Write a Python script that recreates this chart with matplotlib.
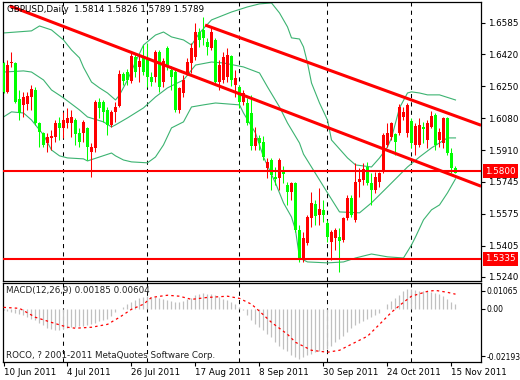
import matplotlib
matplotlib.use("Agg")
import matplotlib.pyplot as plt
import matplotlib.transforms as mtransforms

# daily GBPUSD candles, 10 Jun 2011 .. 16 Nov 2011
opens = [1.6373, 1.6219, 1.6373, 1.6373, 1.6182, 1.6150, 1.6156, 1.6193, 1.6230, 1.6055,
         1.6002, 1.5949, 1.5976, 1.5981, 1.6055, 1.6029, 1.6055, 1.6055, 1.6071, 1.6002,
         1.6002, 1.6029, 1.5901, 1.5922, 1.6166, 1.6166, 1.6124, 1.6044, 1.6113, 1.6145,
         1.6315, 1.6325, 1.6278, 1.6405, 1.6352, 1.6400, 1.6400, 1.6299, 1.6299, 1.6431,
         1.6272, 1.6452, 1.6336, 1.6325, 1.6124, 1.6214, 1.6320, 1.6373, 1.6405, 1.6537,
         1.6548, 1.6484, 1.6452, 1.6495, 1.6272, 1.6283, 1.6299, 1.6410, 1.6256, 1.6246,
         1.6166, 1.6161, 1.6108, 1.5933, 1.5976, 1.5954, 1.5816, 1.5859, 1.5769, 1.5763,
         1.5795, 1.5726, 1.5689, 1.5737, 1.5488, 1.5329, 1.5419, 1.5552, 1.5626, 1.5567,
         1.5594, 1.5525, 1.5424, 1.5445, 1.5451, 1.5435, 1.5552, 1.5657, 1.5541, 1.5742,
         1.5753, 1.5822, 1.5737, 1.5700, 1.5742, 1.5795, 1.5938, 1.5981, 1.5997, 1.6002,
         1.6087, 1.6002, 1.6066, 1.5938, 1.5938, 1.6034, 1.5965, 1.6034, 1.6097, 1.5965,
         1.5949, 1.6082, 1.5896, 1.5814]
highs = [1.6378, 1.6389, 1.6431, 1.6378, 1.6230, 1.6219, 1.6219, 1.6256, 1.6246, 1.6060,
         1.6007, 1.6002, 1.6018, 1.6071, 1.6087, 1.6113, 1.6135, 1.6124, 1.6082, 1.6029,
         1.6071, 1.6034, 1.5949, 1.6177, 1.6187, 1.6177, 1.6140, 1.6124, 1.6166, 1.6336,
         1.6325, 1.6341, 1.6426, 1.6426, 1.6415, 1.6468, 1.6479, 1.6325, 1.6442, 1.6442,
         1.6400, 1.6463, 1.6357, 1.6336, 1.6246, 1.6309, 1.6400, 1.6479, 1.6585, 1.6558,
         1.6617, 1.6505, 1.6569, 1.6505, 1.6389, 1.6431, 1.6452, 1.6415, 1.6336, 1.6256,
         1.6230, 1.6187, 1.6203, 1.6034, 1.5991, 1.5986, 1.5869, 1.5869, 1.5822, 1.5869,
         1.5827, 1.5742, 1.5742, 1.5742, 1.5514, 1.5477, 1.5567, 1.5689, 1.5647, 1.5710,
         1.5647, 1.5541, 1.5488, 1.5498, 1.5498, 1.5557, 1.5673, 1.5673, 1.5843, 1.5816,
         1.5843, 1.5848, 1.5790, 1.5795, 1.5795, 1.6002, 1.6055, 1.6060, 1.6002, 1.6156,
         1.6140, 1.6161, 1.6082, 1.6055, 1.6082, 1.6060, 1.6071, 1.6118, 1.6108, 1.6029,
         1.6087, 1.6087, 1.5922, 1.5826]
lows = [1.6214, 1.6214, 1.6352, 1.6161, 1.6071, 1.6087, 1.6124, 1.6124, 1.6044, 1.5928,
        1.5928, 1.5901, 1.5912, 1.5954, 1.5965, 1.5976, 1.6029, 1.5981, 1.5938, 1.5928,
        1.5954, 1.5859, 1.5769, 1.5901, 1.6082, 1.6060, 1.5991, 1.6034, 1.6060, 1.6140,
        1.6256, 1.6256, 1.6267, 1.6299, 1.6272, 1.6309, 1.6246, 1.6251, 1.6272, 1.6219,
        1.6246, 1.6336, 1.6230, 1.6113, 1.6108, 1.6193, 1.6309, 1.6320, 1.6389, 1.6458,
        1.6468, 1.6415, 1.6442, 1.6256, 1.6230, 1.6267, 1.6272, 1.6251, 1.6193, 1.6135,
        1.6150, 1.6044, 1.5912, 1.5912, 1.5912, 1.5859, 1.5763, 1.5700, 1.5726, 1.5700,
        1.5737, 1.5620, 1.5647, 1.5477, 1.5318, 1.5318, 1.5408, 1.5504, 1.5514, 1.5514,
        1.5530, 1.5424, 1.5329, 1.5382, 1.5265, 1.5424, 1.5541, 1.5557, 1.5530, 1.5663,
        1.5726, 1.5726, 1.5620, 1.5684, 1.5716, 1.5790, 1.5928, 1.5965, 1.5885, 1.5991,
        1.6071, 1.5981, 1.5922, 1.5885, 1.5928, 1.5949, 1.5922, 1.6029, 1.5912, 1.5928,
        1.5922, 1.5885, 1.5790, 1.5789]
closes = [1.6219, 1.6362, 1.6378, 1.6166, 1.6108, 1.6193, 1.6198, 1.6235, 1.6055, 1.6007,
          1.5938, 1.5981, 1.5986, 1.6055, 1.6029, 1.6071, 1.6082, 1.6087, 1.5997, 1.5954,
          1.6060, 1.5928, 1.5928, 1.6166, 1.6135, 1.6113, 1.6044, 1.6113, 1.6140, 1.6315,
          1.6278, 1.6283, 1.6410, 1.6325, 1.6384, 1.6325, 1.6299, 1.6272, 1.6431, 1.6246,
          1.6384, 1.6362, 1.6299, 1.6124, 1.6241, 1.6283, 1.6378, 1.6452, 1.6537, 1.6495,
          1.6505, 1.6458, 1.6537, 1.6272, 1.6362, 1.6405, 1.6415, 1.6283, 1.6294, 1.6166,
          1.6214, 1.6055, 1.5933, 1.5976, 1.5949, 1.5875, 1.5848, 1.5779, 1.5758, 1.5859,
          1.5785, 1.5689, 1.5737, 1.5488, 1.5329, 1.5445, 1.5557, 1.5631, 1.5562, 1.5599,
          1.5567, 1.5451, 1.5477, 1.5488, 1.5430, 1.5552, 1.5657, 1.5567, 1.5742, 1.5758,
          1.5811, 1.5737, 1.5700, 1.5769, 1.5790, 1.5991, 1.6002, 1.6055, 1.5954, 1.6140,
          1.6113, 1.6150, 1.5949, 1.6039, 1.6044, 1.6023, 1.6055, 1.6092, 1.5938, 1.6007,
          1.6082, 1.5896, 1.5816, 1.5789]

# Bollinger bands (20, 2), read at a few bars
upper_idx = [0, 7, 9, 12, 15, 17, 19, 20, 22, 24, 26, 28, 29, 31, 33, 35, 38, 40, 42, 45,
             47, 49, 52, 57, 61, 64, 67, 69, 71, 72, 74, 75, 76, 77, 79, 81, 82, 86, 88, 92,
             94, 96, 97, 99, 101, 102, 104, 106, 109, 113]
upper_val = [1.6532, 1.6543, 1.6569, 1.6548, 1.6495, 1.6442, 1.6400, 1.6350, 1.6272, 1.6241,
             1.6214, 1.6177, 1.6203, 1.6283, 1.6378, 1.6468, 1.6521, 1.6537, 1.6511, 1.6495,
             1.6468, 1.6532, 1.6601, 1.6643, 1.6670, 1.6686, 1.6691, 1.6638, 1.6564, 1.6506,
             1.6500, 1.6458, 1.6373, 1.6267, 1.6161, 1.6071, 1.5965, 1.5870, 1.5833, 1.5822,
             1.5870, 1.5928, 1.5976, 1.6135, 1.6214, 1.6220, 1.6214, 1.6204, 1.6204, 1.6177]
mid_idx = [0, 5, 7, 10, 12, 15, 19, 21, 25, 27, 28, 31, 35, 38, 41, 45, 48, 52, 55, 60,
           64, 66, 69, 71, 74, 75, 81, 84, 89, 92, 96, 101, 104, 107, 111, 113]
mid_val = [1.6325, 1.6331, 1.6325, 1.6283, 1.6230, 1.6188, 1.6124, 1.6087, 1.6061, 1.6034,
           1.6045, 1.6082, 1.6135, 1.6193, 1.6241, 1.6283, 1.6362, 1.6378, 1.6373, 1.6352,
           1.6320, 1.6246, 1.6140, 1.6055, 1.5949, 1.5890, 1.5685, 1.5584, 1.5579, 1.5632,
           1.5716, 1.5822, 1.5875, 1.5923, 1.5976, 1.5976]
low_idx = [0, 2, 5, 7, 10, 12, 14, 16, 20, 21, 24, 27, 28, 30, 32, 36, 38, 40, 42, 45,
           47, 50, 53, 59, 60, 63, 65, 68, 70, 72, 73, 74, 76, 81, 85, 88, 92, 96, 100, 102,
           103, 105, 107, 109, 111, 113]
low_val = [1.6087, 1.6114, 1.6108, 1.6071, 1.5992, 1.5912, 1.5881, 1.5870, 1.5865, 1.5854,
           1.5875, 1.5896, 1.5881, 1.5859, 1.5849, 1.5844, 1.5875, 1.5939, 1.6029, 1.6061,
           1.6140, 1.6151, 1.6161, 1.6151, 1.6108, 1.6002, 1.5875, 1.5737, 1.5632, 1.5557,
           1.5488, 1.5340, 1.5319, 1.5314, 1.5319, 1.5340, 1.5361, 1.5346, 1.5340, 1.5409,
           1.5451, 1.5542, 1.5595, 1.5621, 1.5685, 1.5759]

# MACD(12,26,9): main line (histogram) per bar and signal line
macd_main = [-0.0006, -0.0009, -0.0012, -0.0016, -0.0022, -0.0027, -0.0033, -0.0040, -0.0048, -0.0058,
             -0.0068, -0.0078, -0.0085, -0.0089, -0.0088, -0.0084, -0.0079, -0.0075, -0.0073, -0.0072,
             -0.0070, -0.0066, -0.0062, -0.0057, -0.0052, -0.0047, -0.0040, -0.0030, -0.0015, 0.0000,
             0.0006, 0.0018, 0.0030, 0.0037, 0.0043, 0.0047, 0.0051, 0.0050, 0.0048, 0.0045,
             0.0041, 0.0038, 0.0032, 0.0027, 0.0028, 0.0031, 0.0039, 0.0046, 0.0055, 0.0063,
             0.0065, 0.0062, 0.0060, 0.0055, 0.0048, 0.0042, 0.0036, 0.0030, 0.0019, 0.0008,
             -0.0004, -0.0025, -0.0048, -0.0062, -0.0076, -0.0086, -0.0102, -0.0118, -0.0135, -0.0152,
             -0.0165, -0.0175, -0.0190, -0.0200, -0.0205, -0.0200, -0.0192, -0.0186, -0.0180, -0.0175,
             -0.0171, -0.0166, -0.0152, -0.0138, -0.0124, -0.0112, -0.0095, -0.0079, -0.0067, -0.0057,
             -0.0049, -0.0040, -0.0032, -0.0026, -0.0016, -0.0002, 0.0019, 0.0034, 0.0046, 0.0058,
             0.0072, 0.0083, 0.0082, 0.0078, 0.0073, 0.0072, 0.0072, 0.0069, 0.0065, 0.0060,
             0.0054, 0.0042, 0.0029, 0.00185]
sig_idx = [0, 4, 8, 12, 16, 18, 22, 26, 29, 32, 35, 37, 41, 44, 47, 51, 56, 59, 62, 64,
           67, 71, 73, 77, 81, 84, 87, 91, 94, 97, 100, 102, 106, 108, 111, 113]
sig_val = [0.0006, 0.0002, -0.0035, -0.0056, -0.0076, -0.0080, -0.0076, -0.0064, -0.0035, -0.0002,
           0.0019, 0.0047, 0.0056, 0.0052, 0.0039, 0.0047, 0.0052, 0.0043, 0.0019, -0.0010,
           -0.0056, -0.0105, -0.0138, -0.0171, -0.0179, -0.0171, -0.0146, -0.0113, -0.0064, -0.0014,
           0.0027, 0.0052, 0.0072, 0.0076, 0.0068, 0.00604]

date_idx = [0, 16, 32, 48, 64, 80, 96, 112]
date_labels = ["10 Jun 2011", "4 Jul 2011", "26 Jul 2011", "17 Aug 2011",
               "8 Sep 2011", "30 Sep 2011", "24 Oct 2011", "15 Nov 2011"]
month_idx = [15, 36, 59, 81, 102]

price_ticks = [1.6585, 1.6420, 1.6250, 1.6080, 1.5910, 1.5745, 1.5575, 1.5405, 1.5240]
levels = [1.5800, 1.5335]
# trend lines: (bar, price) -> (bar, price)
trends = [((1.6, 1.6675), (119.4, 1.5720)),
          ((50.4, 1.6574), (119.4, 1.6043))]

BULL = "#ff0000"
BEAR = "#00ff00"
BAND = "#3cb371"
FS = 6.3
plt.rcParams["font.family"] = "DejaVu Sans"

fig = plt.figure(figsize=(5.2, 3.8), dpi=100)
W, H = 520.0, 380.0
ax = fig.add_axes([3 / W, 1 - 281 / H, 478 / W, 279 / H])
ax2 = fig.add_axes([3 / W, 1 - 362 / H, 478 / W, 79 / H])

xlim = (-0.125, 119.375)

# main panel
for i in range(len(opens)):
    o, h, l, c = opens[i], highs[i], lows[i], closes[i]
    col = BULL if c >= o else BEAR
    ax.vlines(i, l, h, colors=col, lw=0.75, zorder=3)
    ax.bar(i, max(abs(c - o), 0.0004), bottom=min(o, c), width=0.75,
           color=col, lw=0, zorder=3)

ax.plot(upper_idx, upper_val, color=BAND, lw=0.8, zorder=2)
ax.plot(mid_idx, mid_val, color=BAND, lw=0.8, zorder=2)
ax.plot(low_idx, low_val, color=BAND, lw=0.8, zorder=2)

for (x0, y0), (x1, y1) in trends:
    ax.plot([x0, x1], [y0, y1], color="red", lw=2.2, solid_capstyle="butt", zorder=4)
for lv in levels:
    ax.axhline(lv, color="red", lw=1.5, zorder=4)

for m in month_idx:
    ax.axvline(m, color="black", lw=0.75, ls=(0, (4, 4)), zorder=1)
    ax2.axvline(m, color="black", lw=0.75, ls=(0, (4, 4)), zorder=1)

ax.set_xlim(*xlim)
ax.set_ylim(1.5218, 1.6696)
ax.set_xticks([])
ax.yaxis.tick_right()
ax.set_yticks(price_ticks)
ax.set_yticklabels(["%.4f" % p for p in price_ticks])
ax.tick_params(axis="y", direction="out", length=3, width=0.8, pad=2, labelsize=FS)
for s in ax.spines.values():
    s.set_linewidth(0.9)

trans = mtransforms.blended_transform_factory(ax.transAxes, ax.transData)
for lv in levels:
    ax.text(1.0 + 4.5 / 478, lv, "%.4f" % lv, transform=trans, ha="left", va="center",
            fontsize=FS, color="white", clip_on=False, zorder=6,
            bbox=dict(boxstyle="square,pad=0.25", facecolor="red", edgecolor="none"))

fig.text(7 / W, 1 - 10 / H, "GBPUSD,Daily  1.5814 1.5826 1.5789 1.5789",
         fontsize=FS, ha="left", va="center", color="black")

# MACD panel
ax2.vlines(range(len(macd_main)), 0, macd_main, colors="#c0c0c0", lw=0.9, zorder=2)
ax2.plot(sig_idx, sig_val, color="red", lw=0.9, ls=(0, (2, 2.5)), zorder=3)
ax2.set_xlim(*xlim)
ax2.set_ylim(-0.02193, 0.01065)
ax2.yaxis.tick_right()
ax2.set_yticks([0.0074, 0.0, -0.0195])
ax2.set_yticklabels(["0.01065", "0.00", "-0.02193"])
ax2.tick_params(axis="y", direction="out", length=3, width=0.8, pad=1, labelsize=5.5)
ax2.set_xticks(date_idx)
ax2.set_xticklabels(date_labels, ha="left")
ax2.tick_params(axis="x", direction="out", length=3, width=0.8, pad=1.5, labelsize=FS)
for s in ax2.spines.values():
    s.set_linewidth(0.9)

fig.text(6 / W, 1 - 291 / H, "MACD(12,26,9) 0.00185 0.00604", fontsize=FS,
         ha="left", va="center", color="#202020")
fig.text(6 / W, 1 - 355 / H, "ROCO, ? 2001-2011 MetaQuotes Software Corp.", fontsize=FS,
         ha="left", va="center", color="#202020")

fig.savefig("out.png", dpi=100)
